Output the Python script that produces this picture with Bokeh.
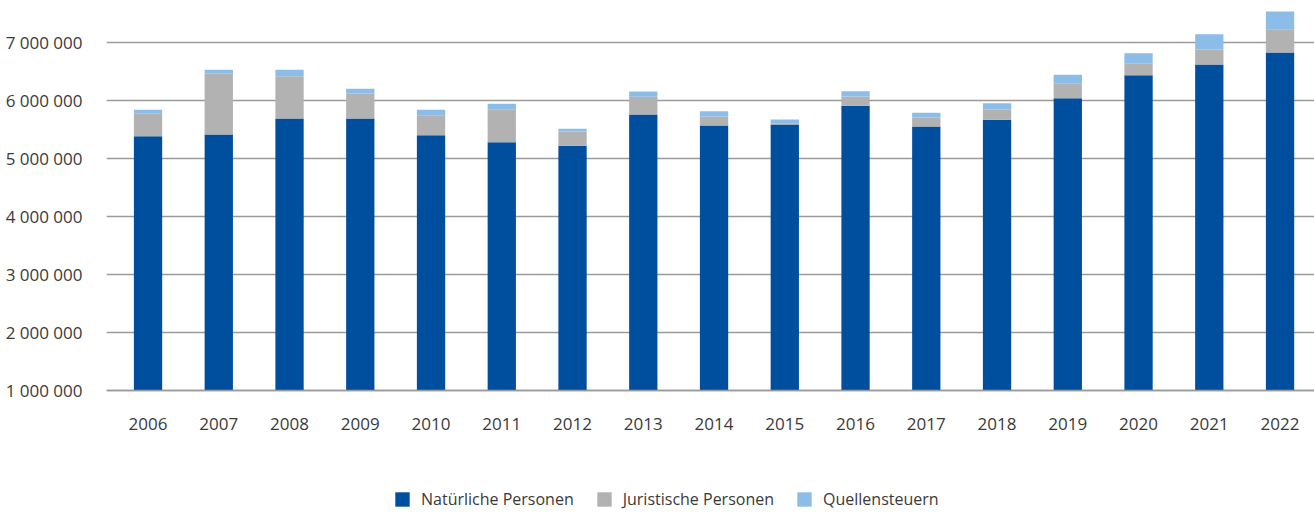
from bokeh.plotting import figure
from bokeh.models import (ColumnDataSource, FixedTicker, CustomJSTickFormatter, Legend, LegendItem,
                          Range1d, LinearAxis)
from bokeh.embed import file_html
from bokeh.resources import INLINE

years = ["2006", "2007", "2008", "2009", "2010", "2011", "2012", "2013", "2014",
         "2015", "2016", "2017", "2018", "2019", "2020", "2021", "2022"]
natuerliche = [5381000, 5410000, 5686000, 5686000, 5398000, 5277000, 5215000, 5755000, 5565000,
               5582000, 5904000, 5548000, 5663000, 6035000, 6432000, 6616000, 6823000]
juristische = [386000, 1046000, 728000, 430000, 345000, 569000, 247000, 304000, 155000,
               20000, 161000, 155000, 178000, 259000, 206000, 258000, 401000]
quellensteuern = [68000, 69000, 111000, 81000, 92000, 93000, 46000, 92000, 91000,
                  66000, 91000, 81000, 108000, 144000, 173000, 264000, 305000]
series_names = ["Natürliche Personen", "Juristische Personen", "Quellensteuern"]
colors = ["#004F9F", "#B2B2B2", "#8CBDE8"]
y_ticks = [1000000, 2000000, 3000000, 4000000, 5000000, 6000000, 7000000]

BASE = 1000000
xs = list(range(len(years)))
b0 = [BASE] * len(years)
t0 = list(natuerliche)
t1 = [a + j for a, j in zip(t0, juristische)]
t2 = [a + q for a, q in zip(t1, quellensteuern)]
source = ColumnDataSource(dict(x=xs, b0=b0, t0=t0, t1=t1, t2=t2))

FONT = "Open Sans"
FS = "17px"
TXT = "#3a3a3a"
GRID = "#9a9a9a"

p = figure(width=1314, height=513, output_backend="svg", toolbar_location=None,
           x_range=Range1d(-0.587, 16.487), y_range=Range1d(-1118900, 7718300),
           x_axis_location=None,
           min_border_left=106, min_border_right=0, min_border_top=0, min_border_bottom=0)
p.outline_line_color = None

r0 = p.vbar(x="x", bottom="b0", top="t0", width=0.4, source=source, fill_color=colors[0], line_color=None)
r1 = p.vbar(x="x", bottom="t0", top="t1", width=0.4, source=source, fill_color=colors[1], line_color=None)
r2 = p.vbar(x="x", bottom="t1", top="t2", width=0.4, source=source, fill_color=colors[2], line_color=None)

p.xgrid.grid_line_color = None
p.ygrid.grid_line_color = GRID
p.ygrid.grid_line_width = 1.5
p.ygrid.ticker = FixedTicker(ticks=y_ticks)

p.yaxis.ticker = FixedTicker(ticks=y_ticks)
p.yaxis.formatter = CustomJSTickFormatter(code="return tick.toFixed(0).replace(/\\B(?=(\\d{3})+(?!\\d))/g, ' ');")
p.yaxis.axis_line_color = None
p.yaxis.major_tick_line_color = None
p.yaxis.minor_tick_line_color = None
p.yaxis.major_label_standoff = 18
p.yaxis.major_label_text_font = FONT
p.yaxis.major_label_text_font_size = FS
p.yaxis.major_label_text_color = TXT

xaxis = LinearAxis(fixed_location=BASE, ticker=FixedTicker(ticks=xs),
                   major_label_overrides={i: y for i, y in zip(xs, years)},
                   axis_line_color=GRID, axis_line_width=1.5,
                   major_tick_line_color=None, minor_tick_line_color=None,
                   major_label_standoff=22, major_label_text_font=FONT,
                   major_label_text_font_size=FS, major_label_text_color=TXT)
p.add_layout(xaxis, "below")

legend = Legend(items=[LegendItem(label=series_names[0], renderers=[r0]),
                       LegendItem(label=series_names[1], renderers=[r1]),
                       LegendItem(label=series_names[2], renderers=[r2])],
                orientation="horizontal", location=(287, 3),
                glyph_width=18, glyph_height=18, label_standoff=10, spacing=21,
                padding=0, margin=0, border_line_color=None, background_fill_alpha=0,
                label_text_font=FONT, label_text_font_size="16px", label_text_color=TXT,
                label_height=18)
p.add_layout(legend, "center")

open("out.html", "w").write(file_html(p, INLINE))
